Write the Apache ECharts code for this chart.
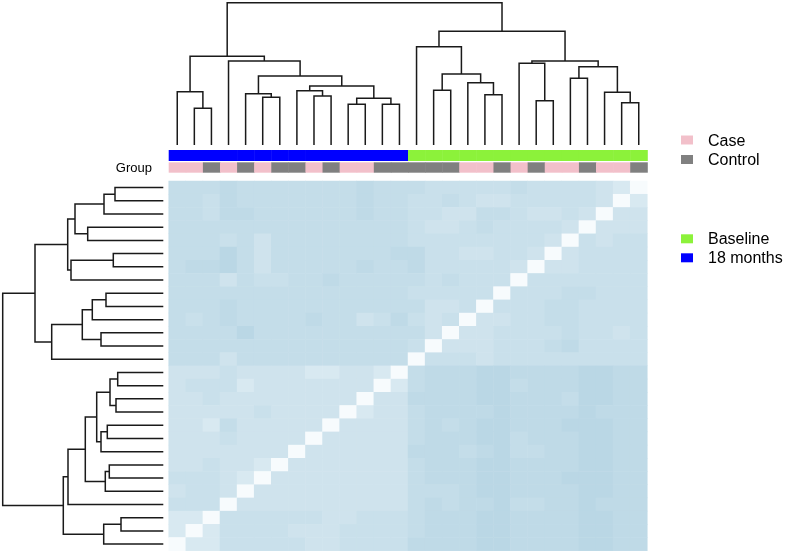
<!DOCTYPE html>
<html>
<head>
<meta charset="utf-8">
<script src="https://cdn.jsdelivr.net/npm/echarts@6/dist/echarts.min.js"></script>
<style>
  html, body { margin: 0; padding: 0; background: #fff; }
  #main { width: 789px; height: 553px; }
</style>
</head>
<body>
<div id="main"></div>
<script>
// column order of the samples (rows show the same samples in reverse order)
const timeGroup = [
  '18 months', '18 months', '18 months', '18 months', '18 months', '18 months', '18 months',
  '18 months', '18 months', '18 months', '18 months', '18 months', '18 months', '18 months',
  'Baseline', 'Baseline', 'Baseline', 'Baseline', 'Baseline', 'Baseline', 'Baseline',
  'Baseline', 'Baseline', 'Baseline', 'Baseline', 'Baseline', 'Baseline', 'Baseline'
]
const caseGroup = [
  'Case', 'Case', 'Control', 'Case', 'Control', 'Case', 'Control',
  'Control', 'Case', 'Control', 'Case', 'Case', 'Control', 'Control',
  'Control', 'Control', 'Control', 'Case', 'Case', 'Control', 'Case',
  'Control', 'Case', 'Case', 'Control', 'Case', 'Case', 'Control'
]

// similarity shade per cell, 0 = darkest blue ... 9 = white (one string per row, one digit per column)
const shadeRows = [
  '44434444444344' + '45555545555679',
  '44534444444344' + '55456655555697',
  '44533444444344' + '55664456656966',
  '44444444444444' + '56654555569666',
  '44454644444444' + '55555555695655',
  '44424644444443' + '35566556965555',
  '43324644444344' + '35555569665555',
  '44464554434444' + '45455595555555',
  '44444444444444' + '55555955544555',
  '44434444444444' + '46659555445555',
  '45434444344653' + '56596655445555',
  '44442444444444' + '46966555545565',
  '44444444444444' + '59666555435555',
  '44464444444444' + '95556555555555',
  '66656666776679' + '43332233332233',
  '65557666666697' + '43332243332233',
  '66566666666966' + '33332233342233',
  '66666566669766' + '43333233332333',
  '66746666696666' + '43432233322233',
  '66656666966666' + '43332243332233',
  '66666669666666' + '33343244332233',
  '66566796666666' + '43332233332233',
  '55567966666666' + '43332233322233',
  '65569666666666' + '44432233332233',
  '55596666666666' + '43433244332333',
  '77955555566555' + '43332233332233',
  '79755556665555' + '43332233332233',
  '97755555665555' + '33332233332233'
]

// hclust style merges: negative = leaf (-1 is the first leaf), positive = earlier merge; third value = height
const colMerges = [
  [-2, -3, 36.7], [-1, 1, 53.3], [-6, -7, 47.7], [-5, 3, 51.3], [-9, -10, 49],
  [-8, 5, 54.3], [-11, -12, 40.7], [-13, -14, 40.7], [7, 8, 46.7], [6, 9, 59],
  [4, 10, 69], [-4, 11, 84], [2, 12, 88.7], [-16, -17, 54.7], [-19, -20, 50.3],
  [-18, 15, 62.3], [14, 16, 71], [-15, 17, 98.3], [-22, -23, 44.3], [-21, 19, 81.7],
  [-24, -25, 66.7], [-27, -28, 42.3], [-26, 22, 52.7], [21, 23, 78.3], [20, 24, 84],
  [18, 25, 113.7], [13, 26, 142.3]
]
const rowMerges = [
  [-1, -2, 48.3], [-3, 1, 59.3], [-4, -5, 75.6], [2, 3, 88.3], [-6, -7, 50],
  [5, -8, 92.3], [4, 6, 95.6], [-9, -10, 57.3], [8, -11, 71], [-12, -13, 62.3],
  [9, 10, 81], [11, -14, 111.6], [7, 12, 128.3], [-15, -16, 45.6], [-17, -18, 47.3],
  [14, 15, 53.3], [-19, -20, 56], [17, -21, 62.3], [16, 18, 66.6], [-22, -23, 54],
  [20, -24, 58], [19, 21, 78], [22, -25, 95.3], [-26, -27, 42.3], [24, -28, 59.6],
  [23, 25, 100], [13, 26, 160.6]
]

const groupColors = { 'Case': '#f2c0ca', 'Control': '#808080', 'Baseline': '#8cf23a', '18 months': '#0000ff' }
const shadeColors = ['#b2d2e2', '#b6d4e3', '#bad7e5', '#bfdae7', '#c4dde9', '#c9e0eb', '#cfe3ed', '#d8e9f1', '#e4eff5', '#f7fbfd']

const n = shadeRows.length
const idx = shadeRows.map((_, i) => i)
const fontFamily = '"Liberation Sans", Arial, Helvetica, sans-serif'

// turn merges into one U-shaped link per merge: [posA, hA, posB, hB, h]
function linkSegments(merges) {
  const pos = [], hgt = [], segs = []
  merges.forEach(([a, b, h], i) => {
    const pa = a < 0 ? -a - 0.5 : pos[a - 1]
    const ha = a < 0 ? 0 : hgt[a - 1]
    const pb = b < 0 ? -b - 0.5 : pos[b - 1]
    const hb = b < 0 ? 0 : hgt[b - 1]
    segs.push([pa, ha, pb, hb, h])
    pos[i] = (pa + pb) / 2
    hgt[i] = h
  })
  return segs
}

function dendroSeries(merges, axisIndex, horizontal) {
  return {
    type: 'custom',
    xAxisIndex: axisIndex,
    yAxisIndex: axisIndex,
    silent: true,
    data: linkSegments(merges),
    renderItem(params, api) {
      const pt = (p, v) => api.coord(horizontal ? [v, p] : [p, v])
      const pa = api.value(0), ha = api.value(1), pb = api.value(2), hb = api.value(3), h = api.value(4)
      return {
        type: 'polyline',
        shape: { points: [pt(pa, ha), pt(pa, h), pt(pb, h), pt(pb, hb)] },
        style: { stroke: '#1a1a1a', lineWidth: 1.5, fill: null }
      }
    }
  }
}

function annotationSeries(labels, axisIndex) {
  return {
    type: 'custom',
    xAxisIndex: axisIndex,
    yAxisIndex: axisIndex,
    silent: true,
    data: labels.map((g, i) => ({ value: [i, 0], itemStyle: { color: groupColors[g] } })),
    renderItem(params, api) {
      const top = api.coord([api.value(0), 1])
      const bottom = api.coord([api.value(0), 0])
      const w = api.size([1, 0])[0]
      return {
        type: 'rect',
        shape: { x: top[0] - w / 2, y: top[1], width: w + 0.5, height: bottom[1] - top[1] },
        style: { fill: api.visual('color') }
      }
    }
  }
}

const heatData = []
shadeRows.forEach((row, r) => {
  for (let c = 0; c < n; c++) heatData.push([c, r, Number(row[c])])
})

const hmLeft = 168.7, hmWidth = 478.6

const chart = echarts.init(document.getElementById('main'))
chart.setOption({
  animation: false,
  backgroundColor: '#fff',
  grid: [
    { left: hmLeft, top: 181, width: hmWidth, height: 369.7 },
    { left: hmLeft, top: 2.7, width: hmWidth, height: 142.3 },
    { left: 2.7, top: 181, width: 160.6, height: 369.7 },
    { left: hmLeft, top: 150, width: hmWidth, height: 11 },
    { left: hmLeft, top: 162.3, width: hmWidth, height: 10.4 }
  ],
  xAxis: [
    { type: 'category', gridIndex: 0, data: idx, show: false },
    { type: 'value', gridIndex: 1, min: 0, max: n, show: false },
    { type: 'value', gridIndex: 2, min: 0, max: 160.6, inverse: true, show: false },
    { type: 'category', gridIndex: 3, data: idx, show: false },
    { type: 'category', gridIndex: 4, data: idx, show: false }
  ],
  yAxis: [
    { type: 'category', gridIndex: 0, data: idx, inverse: true, show: false },
    { type: 'value', gridIndex: 1, min: 0, max: 142.3, show: false },
    { type: 'value', gridIndex: 2, min: 0, max: n, inverse: true, show: false },
    { type: 'value', gridIndex: 3, min: 0, max: 1, show: false },
    { type: 'value', gridIndex: 4, min: 0, max: 1, show: false }
  ],
  visualMap: {
    type: 'continuous',
    show: false,
    seriesIndex: 0,
    min: 0,
    max: 9,
    inRange: { color: shadeColors }
  },
  series: [
    {
      type: 'heatmap',
      xAxisIndex: 0,
      yAxisIndex: 0,
      data: heatData,
      silent: true,
      progressive: 0
    },
    dendroSeries(colMerges, 1, false),
    dendroSeries(rowMerges, 2, true),
    annotationSeries(timeGroup, 3),
    annotationSeries(caseGroup, 4)
  ],
  graphic: [
    { type: 'text', right: 789 - 152, top: 161.5, style: { text: 'Group', font: '13px ' + fontFamily, fill: '#000' } },
    { type: 'rect', left: 681, top: 135.5, shape: { width: 12, height: 9 }, style: { fill: groupColors['Case'] } },
    { type: 'text', left: 708, top: 133.5, style: { text: 'Case', font: '16px ' + fontFamily, fill: '#000' } },
    { type: 'rect', left: 681, top: 155, shape: { width: 12, height: 9 }, style: { fill: groupColors['Control'] } },
    { type: 'text', left: 708, top: 153, style: { text: 'Control', font: '16px ' + fontFamily, fill: '#000' } },
    { type: 'rect', left: 681, top: 234.3, shape: { width: 12, height: 9 }, style: { fill: groupColors['Baseline'] } },
    { type: 'text', left: 708, top: 232, style: { text: 'Baseline', font: '16px ' + fontFamily, fill: '#000' } },
    { type: 'rect', left: 681, top: 253.3, shape: { width: 12, height: 9 }, style: { fill: groupColors['18 months'] } },
    { type: 'text', left: 708, top: 251, style: { text: '18 months', font: '16px ' + fontFamily, fill: '#000' } }
  ]
})
</script>
</body>
</html>
